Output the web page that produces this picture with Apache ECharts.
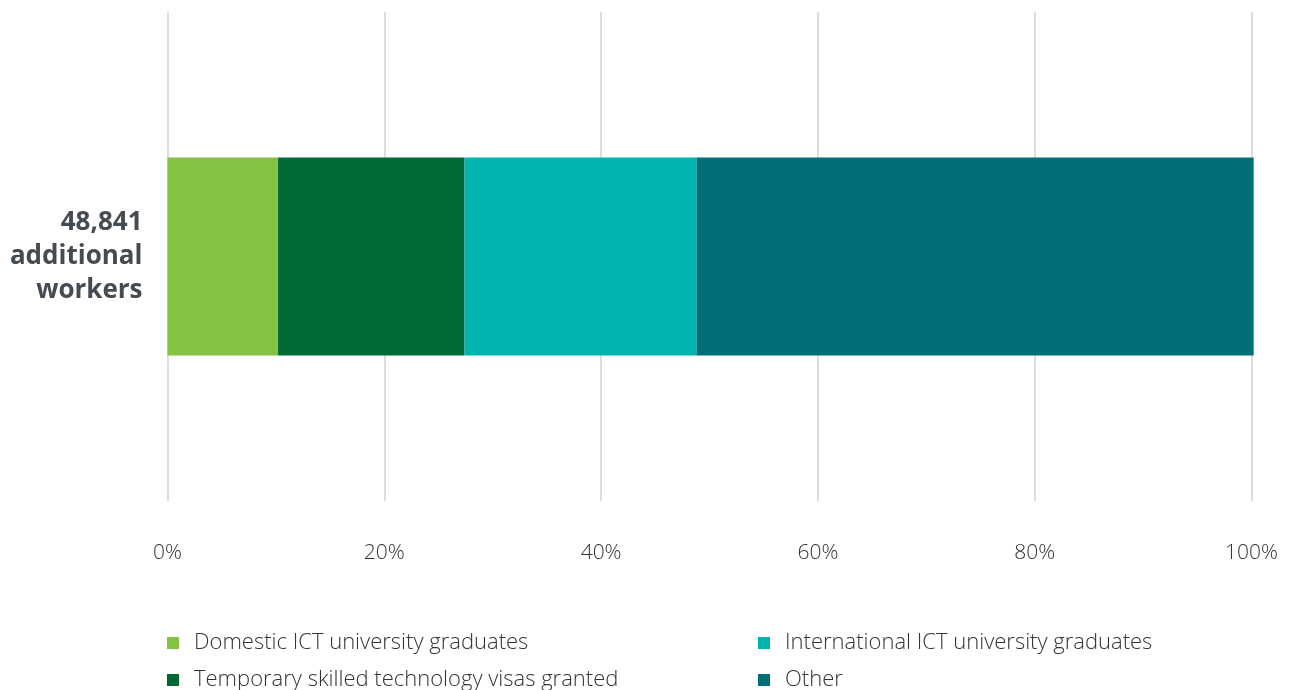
<!DOCTYPE html>
<html>
<head>
<meta charset="utf-8">
<script src="https://cdn.jsdelivr.net/npm/echarts@6/dist/echarts.min.js"></script>
<style>
  html, body { margin: 0; padding: 0; background: #fff; }
  #chart { width: 1292px; height: 690px; }
</style>
</head>
<body>
<div id="chart"></div>
<script>
// Share of additional ICT workers by source (%)
const categories = ['48,841\nadditional\nworkers'];
const seriesNames = [
  'Domestic ICT university graduates',
  'Temporary skilled technology visas granted',
  'International ICT university graduates',
  'Other'
];
const domestic = [10.2];
const temporaryVisas = [17.2];
const international = [21.4];
const other = [51.4];
const xTicks = [0, 20, 40, 60, 80, 100];

const colors = ['#84C241', '#006A34', '#00B5AF', '#006F78'];
const seriesValues = [domestic, temporaryVisas, international, other];

const chart = echarts.init(document.getElementById('chart'), null, { renderer: 'canvas' });

const legendText = {
  fontFamily: 'Open Sans',
  fontWeight: 300,
  fontSize: 22,
  color: '#333',
  lineHeight: 22,
  padding: [0, 0, 0, 10]
};

function legendBlock(left, names) {
  return {
    orient: 'vertical',
    left: left,
    top: 632,
    height: 90,
    padding: 0,
    icon: 'rect',
    itemWidth: 12,
    itemHeight: 12,
    itemGap: 15,
    selectedMode: false,
    textStyle: legendText,
    data: names
  };
}

chart.setOption({
  animation: false,
  textStyle: { fontFamily: 'Open Sans' },
  grid: { left: 167.5, right: 40.5, top: 12, bottom: 189, containLabel: false },
  xAxis: {
    type: 'value',
    min: xTicks[0],
    max: xTicks[xTicks.length - 1],
    interval: xTicks[1] - xTicks[0],
    axisLine: { show: false },
    axisTick: { show: false },
    splitLine: { show: true, lineStyle: { color: '#DDDDDD', width: 2 } },
    axisLabel: {
      formatter: '{value}%',
      margin: 42,
      fontFamily: 'Open Sans',
      fontWeight: 300,
      fontSize: 21,
      color: '#333'
    }
  },
  yAxis: {
    type: 'category',
    data: categories,
    axisLine: { show: false },
    axisTick: { show: false },
    splitLine: { show: false },
    axisLabel: {
      margin: 25,
      align: 'right',
      fontFamily: 'Open Sans',
      fontWeight: 700,
      fontSize: 26,
      lineHeight: 34,
      color: '#454B52'
    }
  },
  legend: [
    legendBlock(167, [seriesNames[0], seriesNames[1]]),
    legendBlock(758, [seriesNames[2], seriesNames[3]])
  ],
  series: seriesNames.map((name, i) => ({
    name: name,
    type: 'bar',
    stack: 'total',
    clip: false,
    barWidth: 198,
    itemStyle: { color: colors[i] },
    data: seriesValues[i]
  }))
});
</script>
</body>
</html>
